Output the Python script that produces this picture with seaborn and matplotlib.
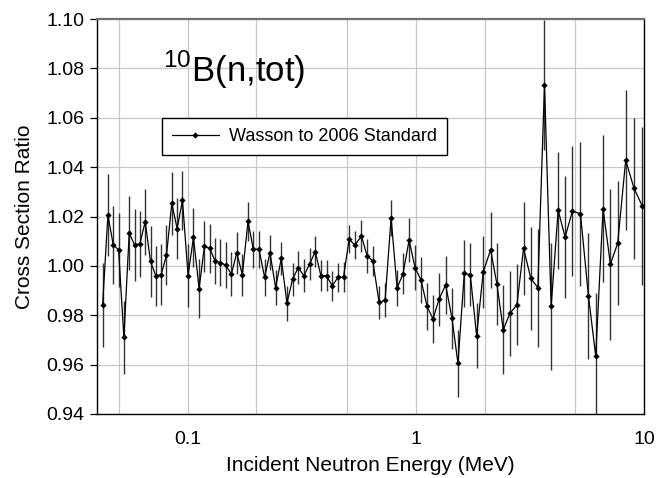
import matplotlib
matplotlib.use("Agg")
import matplotlib.pyplot as plt
import matplotlib.ticker as mticker
import seaborn as sns
import pandas as pd

# incident neutron energy (MeV)
energy = [
    0.04232, 0.04466, 0.04712, 0.04973, 0.05247, 0.05537, 0.05843, 0.06165, 0.06505, 0.06865,
    0.07244, 0.07643, 0.08066, 0.08511, 0.0898, 0.09477, 0.1003, 0.1059, 0.1121, 0.1183,
    0.1248, 0.1317, 0.139, 0.1467, 0.1553, 0.1639, 0.1735, 0.1837, 0.1938, 0.2052,
    0.2173, 0.2292, 0.2427, 0.257, 0.2721, 0.2881, 0.305, 0.3229, 0.3419, 0.362,
    0.3833, 0.4058, 0.4297, 0.4549, 0.4817, 0.51, 0.5399, 0.5774, 0.6113, 0.6472,
    0.69, 0.7329, 0.7786, 0.8271, 0.8787, 0.9335, 0.9917, 1.0535, 1.1193, 1.1889,
    1.2629, 1.3507, 1.4397, 1.5293, 1.6299, 1.732, 1.8458, 1.9741, 2.1262, 2.2658,
    2.4153, 2.5833, 2.7725, 2.9643, 3.1917, 3.4246, 3.6626, 3.9174, 4.2033, 4.5102,
    4.857, 5.265, 5.707, 6.143, 6.616, 7.122, 7.668, 8.312, 9.042, 9.833,
]

# Wasson / 2006 standard cross section ratio
ratio = [
    0.9841, 1.0206, 1.0085, 1.0065, 0.9710, 1.0133, 1.0085, 1.0089, 1.0179, 1.0018,
    0.9960, 0.9964, 1.0044, 1.0253, 1.0151, 1.0265, 0.9961, 1.0116, 0.9908, 1.0079,
    1.0071, 1.0020, 1.0013, 1.0003, 0.9966, 1.0053, 0.9964, 1.0180, 1.0067, 1.0067,
    0.9953, 1.0054, 0.9912, 1.0030, 0.9849, 0.9946, 0.9993, 0.9960, 1.0007, 1.0058,
    0.9960, 0.9960, 0.9919, 0.9953, 0.9956, 1.0108, 1.0084, 1.0121, 1.0040, 1.0020,
    0.9852, 0.9861, 1.0195, 0.9910, 0.9969, 1.0104, 0.9993, 0.9942, 0.9836, 0.9785,
    0.9865, 0.9923, 0.9787, 0.9605, 0.9970, 0.9964, 0.9717, 0.9976, 1.0065, 0.9926,
    0.9741, 0.9808, 0.9842, 1.0071, 0.9949, 0.9912, 1.0734, 0.9836, 1.0225, 1.0117,
    1.0222, 1.0211, 0.9879, 0.9634, 1.0232, 1.0007, 1.0092, 1.0428, 1.0314, 1.0242,
]

# uncertainty of the ratio
uncert = [
    0.0170, 0.0168, 0.0159, 0.0150, 0.0147, 0.0149, 0.0145, 0.0133, 0.0133, 0.0143,
    0.0121, 0.0123, 0.0120, 0.0128, 0.0122, 0.0118, 0.0127, 0.0119, 0.0121, 0.0104,
    0.0098, 0.0094, 0.0096, 0.0092, 0.0089, 0.0084, 0.0084, 0.0080, 0.0074, 0.0074,
    0.0074, 0.0072, 0.0072, 0.0067, 0.0071, 0.0067, 0.0067, 0.0067, 0.0065, 0.0063,
    0.0063, 0.0063, 0.0062, 0.0059, 0.0061, 0.0057, 0.0057, 0.0065, 0.0069, 0.0062,
    0.0067, 0.0069, 0.0072, 0.0074, 0.0082, 0.0088, 0.0092, 0.0093, 0.0096, 0.0098,
    0.0108, 0.0118, 0.0123, 0.0135, 0.0135, 0.0127, 0.0131, 0.0145, 0.0155, 0.0166,
    0.0180, 0.0172, 0.0164, 0.0187, 0.0207, 0.0239, 0.0263, 0.0256, 0.0237, 0.0249,
    0.0264, 0.0291, 0.0256, 0.0256, 0.0298, 0.0306, 0.0251, 0.0283, 0.0286, 0.0321,
]

series_label = "Wasson to 2006 Standard"
x_ticks = [0.1, 1, 10]
x_tick_labels = ["0.1", "1", "10"]
y_ticks = [0.94, 0.96, 0.98, 1.00, 1.02, 1.04, 1.06, 1.08, 1.10]

df = pd.DataFrame({"energy": energy, "ratio": ratio, "err": uncert})

sns.set_theme(style="white")
plt.rcParams["font.family"] = ["Liberation Sans", "DejaVu Sans"]
plt.rcParams["mathtext.fontset"] = "custom"
plt.rcParams["mathtext.rm"] = "Liberation Sans"
plt.rcParams["text.color"] = "black"
plt.rcParams["axes.labelcolor"] = "black"
plt.rcParams["xtick.color"] = "black"
plt.rcParams["ytick.color"] = "black"

fig = plt.figure(figsize=(6.58, 4.78), dpi=100)
ax = fig.add_axes([97 / 658, 1 - 414 / 478, 547 / 658, 395 / 478])

ax.errorbar(df["energy"], df["ratio"], yerr=df["err"], fmt="none",
            ecolor="#333333", elinewidth=1.0, capsize=0, zorder=2)
sns.lineplot(data=df, x="energy", y="ratio", ax=ax, color="black",
             linewidth=0.9, marker="D", markersize=3.2, markeredgewidth=0,
             label=series_label, zorder=3)

ax.set_xscale("log")
ax.set_xlim(0.04, 10)
ax.set_ylim(0.94, 1.10)
ax.set_xticks(x_ticks)
ax.set_xticklabels(x_tick_labels)
ax.xaxis.set_minor_locator(mticker.FixedLocator([0.05, 0.2, 0.5, 2, 5]))
ax.xaxis.set_minor_formatter(mticker.NullFormatter())
ax.set_yticks(y_ticks)
ax.set_yticklabels([f"{v:.2f}" for v in y_ticks])

ax.grid(True, which="both", color="#c8c8c8", linewidth=0.9)
ax.set_axisbelow(True)

ax.tick_params(axis="x", which="major", direction="inout", length=6, width=0.9,
               color="black", labelsize=14, pad=9)
ax.tick_params(axis="x", which="minor", direction="inout", length=4, width=0.9,
               color="black")
ax.tick_params(axis="y", direction="out", length=5, width=0.9, color="black",
               labelsize=14, pad=4, left=True)

for side in ["left", "bottom", "right"]:
    ax.spines[side].set_color("black")
    ax.spines[side].set_linewidth(1.0)
ax.spines["top"].set_color("#707070")
ax.spines["top"].set_linewidth(1.6)

ax.set_xlabel("Incident Neutron Energy (MeV)", fontsize=15, labelpad=6)
ax.set_ylabel("Cross Section Ratio", fontsize=15, labelpad=9)

ax.text(0.121, 0.841, r"$^{10}$B(n,tot)", transform=ax.transAxes,
        fontsize=25, ha="left", va="baseline")

leg = ax.legend(loc="upper left", bbox_to_anchor=(0.119, 0.749), fontsize=13,
                frameon=True, fancybox=False, edgecolor="black", framealpha=1,
                handlelength=2.6, handletextpad=0.55, borderpad=0.55,
                borderaxespad=0)
leg.get_frame().set_linewidth(1.0)

fig.savefig("out.png", dpi=100)
